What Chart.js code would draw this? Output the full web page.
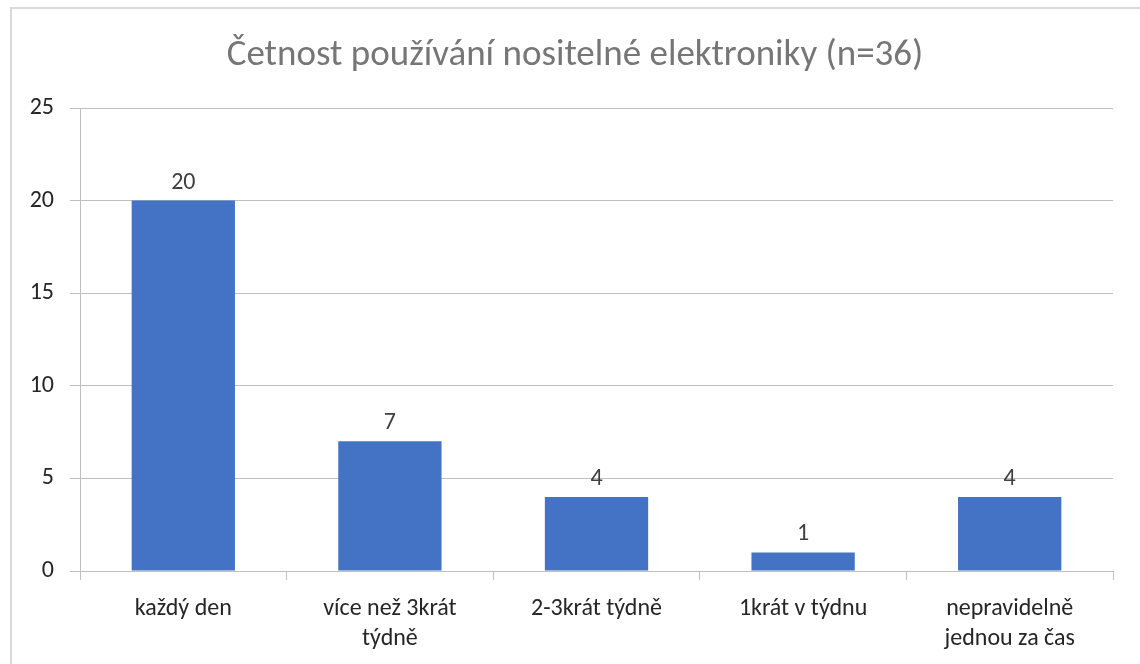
<!DOCTYPE html>
<html><head><meta charset="utf-8">
<script src="https://cdn.jsdelivr.net/npm/chart.js@4/dist/chart.umd.min.js"></script>
<style>
html,body{margin:0;padding:0;background:#fff;overflow:hidden}
#wrap{position:absolute;left:0;top:0;width:1140px;height:664px}
#frame{position:absolute;left:10px;top:7px;width:1140px;height:700px;border:2px solid #d9d9d9;box-sizing:border-box}
canvas{position:absolute;left:0;top:0}
</style></head><body>
<div id="wrap"><div id="frame"></div><canvas id="c" width="1140" height="664"></canvas></div>
<script>
const titleText = 'Četnost používání nositelné elektroniky (n=36)';
const categories = [['každý den'], ['více než 3krát', 'týdně'], ['2-3krát týdně'], ['1krát v týdnu'], ['nepravidelně', 'jednou za čas']];
const values = [20, 7, 4, 1, 4];
const yTicks = [0, 5, 10, 15, 20, 25];

const FONT = "Carlito, 'Open Sans', 'Liberation Sans', sans-serif";

const valueLabels = {
  id: 'valueLabels',
  afterDatasetsDraw(chart) {
    const ctx = chart.ctx;
    const meta = chart.getDatasetMeta(0);
    ctx.save();
    ctx.font = '24px ' + FONT;
    ctx.fillStyle = '#404040';
    ctx.textAlign = 'center';
    ctx.textBaseline = 'alphabetic';
    meta.data.forEach((bar, i) => {
      ctx.fillText(String(values[i]), bar.x, bar.y - 12);
    });
    ctx.restore();
  }
};

const chartTitle = {
  id: 'chartTitle',
  afterDraw(chart) {
    const ctx = chart.ctx;
    ctx.save();
    ctx.font = '37px ' + FONT;
    ctx.fillStyle = '#767676';
    ctx.textAlign = 'center';
    ctx.textBaseline = 'middle';
    ctx.fillText(titleText, 575, 56);
    ctx.restore();
  }
};

new Chart(document.getElementById('c'), {
  type: 'bar',
  data: {
    labels: categories,
    datasets: [{ data: values, backgroundColor: '#4472C4', barPercentage: 0.5, categoryPercentage: 1.0 }]
  },
  options: {
    responsive: false,
    animation: false,
    layout: { padding: { left: 0, right: 27, top: 108, bottom: 0 } },
    plugins: {
      legend: { display: false },
      tooltip: { enabled: false },
      title: { display: false }
    },
    scales: {
      x: {
        grid: { display: true, drawOnChartArea: false, drawTicks: true, tickLength: 9, color: '#bfbfbf', offset: true },
        border: { display: true, color: '#bfbfbf', width: 1 },
        ticks: { color: '#262626', font: { family: FONT, size: 24, lineHeight: 1.25 }, padding: 14, maxRotation: 0, autoSkip: false },
        afterFit(scale) { scale.height = 93; }
      },
      y: {
        min: 0, max: 25,
        afterBuildTicks(scale) { scale.ticks = yTicks.map(v => ({ value: v })); },
        grid: { color: '#bfbfbf', tickLength: 10, drawTicks: true },
        border: { display: true, color: '#bfbfbf' },
        ticks: { color: '#262626', font: { family: FONT, size: 24 }, padding: 16 },
        afterFit(scale) { scale.width = 80; }
      }
    }
  },
  plugins: [valueLabels, chartTitle]
});
</script>
</body></html>
